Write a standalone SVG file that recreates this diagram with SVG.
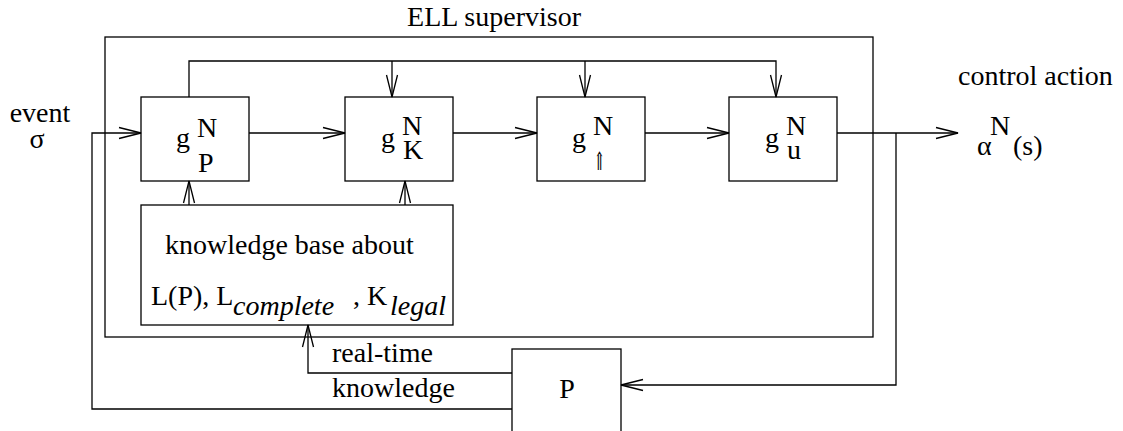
<svg xmlns="http://www.w3.org/2000/svg" width="1123" height="431" viewBox="0 0 1123 431">
<style>
.box{fill:none;stroke:#000;stroke-width:1.3}
.ln{fill:none;stroke:#000;stroke-width:1.3}
.t{font-family:'Liberation Serif','Times New Roman','DejaVu Serif',serif;font-size:28px;fill:#000}
.it{font-style:italic}
.sym{font-family:'DejaVu Serif','DejaVu Sans',serif;font-size:22px;fill:#000}
</style>
<defs>
<marker id="ah" markerWidth="24" markerHeight="14" refX="22" refY="7" orient="auto" markerUnits="userSpaceOnUse" overflow="visible">
<path d="M0,1.5 L22,7 L0,12.5" fill="none" stroke="#000" stroke-width="1.3"/>
</marker>
</defs>
<rect width="1123" height="431" fill="#fff"/>
<g id="supervisor">
<rect class="box" x="105" y="37" width="768" height="300"/>
<text class="t" x="494" y="26" text-anchor="middle">ELL supervisor</text>
</g>
<g id="gP">
<rect class="box" x="141" y="97" width="108" height="84"/>
<text class="t" x="176" y="147">g</text>
<text class="t" x="197" y="137">N</text>
<text class="t" x="198" y="172">P</text>
</g>
<g id="gK">
<rect class="box" x="345" y="97" width="108" height="84"/>
<text class="t" x="381" y="147">g</text>
<text class="t" x="402" y="135">N</text>
<text class="t" x="403" y="159">K</text>
</g>
<g id="gUp">
<rect class="box" x="537" y="97" width="108" height="84"/>
<text class="t" x="572" y="147">g</text>
<text class="t" x="593" y="135">N</text>
<text class="sym" transform="translate(594,170) scale(0.6,1.15)">⇑</text>
</g>
<g id="gU">
<rect class="box" x="729" y="97" width="108" height="84"/>
<text class="t" x="765" y="147">g</text>
<text class="t" x="786" y="135">N</text>
<text class="t" x="787" y="159">u</text>
</g>
<g id="kb">
<rect class="box" x="141" y="205" width="312" height="120"/>
<text class="t" x="165" y="254">knowledge base about</text>
<text class="t" x="151" y="305">L(P), L</text>
<text class="t it" x="233" y="315">complete</text>
<text class="t" x="353" y="305">, K</text>
<text class="t it" x="390" y="315">legal</text>
</g>
<g id="P">
<rect class="box" x="512" y="349" width="109" height="90"/>
<text class="t" x="567" y="398" text-anchor="middle">P</text>
</g>
<g id="labels">
<text class="t" x="40" y="122" text-anchor="middle">event</text>
<text class="t" x="37" y="148" text-anchor="middle">σ</text>
<text class="t" x="958" y="85">control action</text>
<text class="t" x="990" y="135">N</text>
<text class="t" x="977" y="155">α</text>
<text class="t" x="1013" y="155">(s)</text>
<text class="t" x="332" y="362">real-time</text>
<text class="t" x="332" y="397">knowledge</text>
</g>
<g id="connectors">
<polyline class="ln" points="512,409 92,409 92,133 141,133" marker-end="url(#ah)"/>
<line class="ln" x1="249" y1="133" x2="345" y2="133" marker-end="url(#ah)"/>
<line class="ln" x1="453" y1="133" x2="537" y2="133" marker-end="url(#ah)"/>
<line class="ln" x1="645" y1="133" x2="729" y2="133" marker-end="url(#ah)"/>
<line class="ln" x1="837" y1="133" x2="958" y2="133" marker-end="url(#ah)"/>
<polyline class="ln" points="189,97 189,61 776,61 776,97" marker-end="url(#ah)"/>
<line class="ln" x1="392" y1="61" x2="392" y2="97" marker-end="url(#ah)"/>
<line class="ln" x1="585" y1="61" x2="585" y2="97" marker-end="url(#ah)"/>
<line class="ln" x1="189" y1="205" x2="189" y2="181" marker-end="url(#ah)"/>
<line class="ln" x1="405" y1="205" x2="405" y2="181" marker-end="url(#ah)"/>
<polyline class="ln" points="896,133 896,385 621,385" marker-end="url(#ah)"/>
<polyline class="ln" points="512,373 308,373 308,325" marker-end="url(#ah)"/>
</g>
</svg>
